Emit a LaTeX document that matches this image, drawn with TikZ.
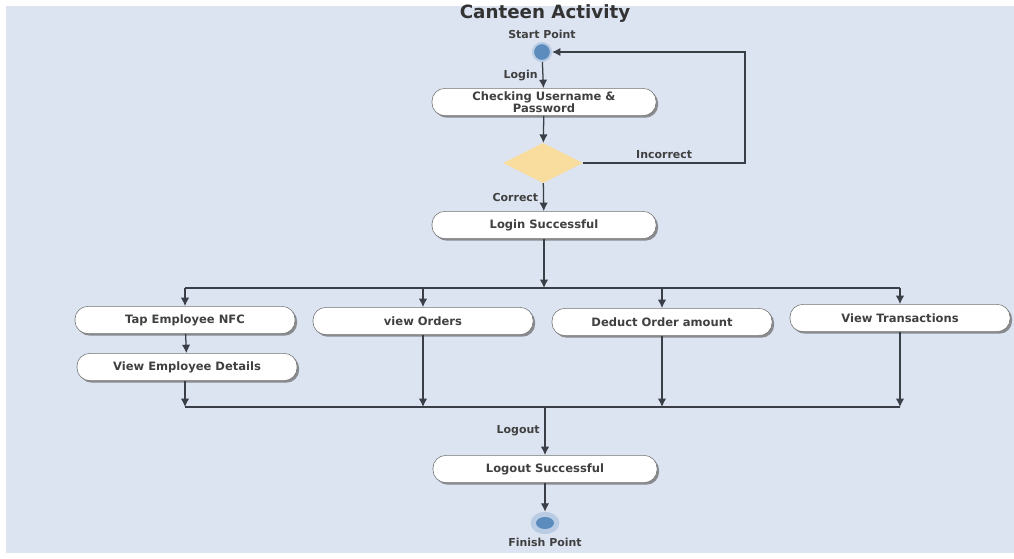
\documentclass[tikz,border=0pt]{standalone}
\usepackage{fontspec}
\setmainfont{DejaVu Sans}
\usetikzlibrary{positioning,shapes.geometric,shadows,arrows.meta}

\definecolor{bgblue}{HTML}{DCE3F1}
\definecolor{nodeblue}{HTML}{5B8CBD}
\definecolor{haloblue}{HTML}{B9CCE4}
\definecolor{decyellow}{HTML}{F8DD9E}
\definecolor{linegray}{HTML}{3A3F47}

\begin{document}
\begin{tikzpicture}[x=0.025cm,y=-0.025cm]
    \tikzset{activity/.style={
        draw=black!55, fill=white, rounded corners=0.32cm, minimum height=0.68cm,
        align=center, inner sep=1pt, font=\bfseries\fontsize{8.2}{8.6}\selectfont, text=black!75,
        drop shadow={shadow xshift=1.5pt, shadow yshift=-1.5pt, fill=black!60, opacity=0.7}
      },
      wide/.style={activity, minimum width=5.6cm},
      narrow/.style={activity, minimum width=5.5cm},
      decision/.style={diamond, aspect=2, fill=decyellow, inner sep=0pt,
        minimum width=2cm, minimum height=1cm},
      flow/.style={-{Latex[length=6pt,width=6pt]}, draw=linegray, line width=0.9pt},
      bar/.style={draw=linegray, line width=0.8pt},
      tag/.style={font=\bfseries\fontsize{7.8}{9}\selectfont, text=black!75}
    }

    \useasboundingbox (0,0) rectangle (1014,559);
    \fill[bgblue] (6,6) rectangle (1014,553);

    \node[font=\bfseries\fontsize{13}{15}\selectfont, text=black!80] (title) at (545,14) {Canteen Activity};

    % start / login check
    \node[circle, fill=nodeblue, draw=haloblue, line width=1.5pt, minimum size=0.45cm, inner sep=0pt] (start) at (542,52) {};
    \node[tag, above=-1pt of start] (startlbl) {Start Point};
    \node[wide] (check) at (544,102) {Checking Username \&\\Password};
    \node[decision] (dec) at (543,163) {};
    \node[wide] (success) at (544,225) {Login Successful};
    \coordinate (back) at (745,52);

    \draw[flow] (start) -- (check) node[midway,left,tag] {Login};
    \draw[flow] (check) -- (dec);
    \draw[flow] (dec.east) -| node[pos=0.25,above=-1pt,tag] {Incorrect} (back) -- (start);
    \draw[flow] (dec) -- (success) node[midway,left,tag] {Correct};

    % fork
    \coordinate (forkL) at (185,288);
    \coordinate (forkR) at (900,288);
    \draw[flow] (success) -- (success |- forkL);
    \draw[bar] (forkL) -- (forkR);

    \node[narrow] (tap) at (185,320) {Tap Employee NFC};
    \node[narrow] (details) at (187,367) {View Employee Details};
    \node[narrow] (orders) at (423,321) {view Orders};
    \node[narrow] (deduct) at (662,322) {Deduct Order amount};
    \node[narrow] (trans) at (900,318) {View Transactions};

    \draw[flow] (forkL) -- (tap);
    \draw[flow] (orders |- forkL) -- (orders);
    \draw[flow] (deduct |- forkL) -- (deduct);
    \draw[flow] (forkR) -- (trans);
    \draw[flow] (tap) -- (details);

    % join
    \coordinate (joinL) at (185,407);
    \coordinate (joinR) at (900,407);
    \draw[bar] (joinL) -- (joinR);
    \draw[flow] (details.south -| joinL) -- (joinL);
    \draw[flow] (orders) -- (orders |- joinL);
    \draw[flow] (deduct) -- (deduct |- joinL);
    \draw[flow] (trans) -- (joinR);

    % logout
    \node[wide] (logout) at (545,469) {Logout Successful};
    \node[ellipse, fill=haloblue, minimum width=0.72cm, minimum height=0.55cm, inner sep=0pt] (finish) at (545,523) {};
    \node[ellipse, fill=nodeblue, minimum width=0.45cm, minimum height=0.3cm, inner sep=0pt] (finishdot) at (finish) {};
    \node[tag, below=-1pt of finish] (finishlbl) {Finish Point};

    \draw[flow] (logout |- joinL) -- (logout) node[midway,left,tag] {Logout};
    \draw[flow] (logout) -- (finish);
\end{tikzpicture}
\end{document}
